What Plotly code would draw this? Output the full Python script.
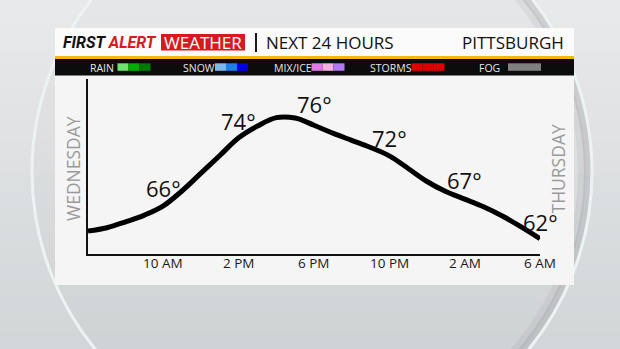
import math
import plotly.graph_objects as go

# ---------------- data ----------------
hours = list(range(0, 25))  # hours after 6 AM Wednesday
temps = [62.9, 63.3, 64.0, 64.8, 65.9, 67.7, 69.8, 71.9, 74.0, 75.4, 76.4, 76.35,
         75.5, 74.55, 73.7, 72.85, 71.85, 70.35, 68.8, 67.6, 66.7, 65.8, 64.7, 63.4, 62.0]
tick_hours = [4, 8, 12, 16, 20, 24]
tick_labels = ["10 AM", "2 PM", "6 PM", "10 PM", "2 AM", "6 AM"]
label_temps = [66, 74, 76, 72, 67, 62]
legend_names = ["RAIN", "SNOW", "MIX/ICE", "STORMS", "FOG"]
legend_colors = [["#6ee26e", "#00b000", "#007a00"],
                 ["#7ab8ea", "#1f7fe8", "#0000e6"],
                 ["#e07ae6", "#f6b0e2", "#b078f2"],
                 ["#e00000", "#e00000", "#e00000"],
                 ["#808080", "#808080", "#808080"]]

W, H = 620, 349
L, R, T, B = 88, 80, 79, 95
PW, PH = W - L - R, H - T - B
FONT = "Open Sans"


def px(x):
    return (x - L) / PW


def py(y):
    return (H - B - y) / PH


def mix(c1, c2, f):
    a = [int(c1[i:i + 2], 16) for i in (1, 3, 5)]
    b = [int(c2[i:i + 2], 16) for i in (1, 3, 5)]
    return "#" + "".join(f"{round(a[k] + (b[k] - a[k]) * f):02x}" for k in range(3))


shapes = []
annotations = []

# background vertical gradient (bands)
NB = 20
for i in range(NB):
    y0 = H * i / NB
    y1 = H * (i + 1) / NB
    shapes.append(dict(type="rect", xref="paper", yref="paper", layer="below",
                       x0=px(0), x1=px(W), y0=py(y1 + 0.5), y1=py(y0),
                       fillcolor=mix("#e8eaeb", "#d2d5d7", (i + 0.5) / NB), line=dict(width=0)))
# background circle: right-side inner shading arc + light rim
CX, CY, RAD = 312, 172, 280
for rr, col, wd in [(RAD - 4, "rgba(130,132,135,0.22)", 8), (RAD - 10, "rgba(130,132,135,0.10)", 8)]:
    pts = []
    for k in range(41):
        a = math.radians(-80 + 160 * k / 40)
        pts.append((px(CX + rr * math.cos(a)), py(CY + rr * math.sin(a))))
    path = "M " + " L ".join(f"{x:.5f},{y:.5f}" for x, y in pts)
    shapes.append(dict(type="path", xref="paper", yref="paper", layer="below", path=path,
                       line=dict(color=col, width=wd)))
shapes.append(dict(type="circle", xref="paper", yref="paper", layer="below",
                   x0=px(CX - RAD), x1=px(CX + RAD), y0=py(CY + RAD), y1=py(CY - RAD),
                   fillcolor="rgba(0,0,0,0.01)", line=dict(color="#edf3f5", width=3)))
# panel
shapes.append(dict(type="rect", xref="paper", yref="paper", layer="below",
                   x0=px(55), x1=px(574), y0=py(285), y1=py(28),
                   fillcolor="#f5f5f5", line=dict(width=0)))
shapes.append(dict(type="rect", xref="paper", yref="paper", layer="below",
                   x0=px(55), x1=px(574), y0=py(56), y1=py(28),
                   fillcolor="#fbfbfb", line=dict(width=0)))
shapes.append(dict(type="rect", xref="paper", yref="paper", layer="below",
                   x0=px(55), x1=px(574), y0=py(59), y1=py(56),
                   fillcolor="#f6b70c", line=dict(width=0)))
shapes.append(dict(type="rect", xref="paper", yref="paper", layer="below",
                   x0=px(55), x1=px(574), y0=py(75.5), y1=py(59),
                   fillcolor="#0c0c0c", line=dict(width=0)))
# red WEATHER box
shapes.append(dict(type="rect", xref="paper", yref="paper", layer="below",
                   x0=px(161), x1=px(245), y0=py(50.5), y1=py(34),
                   fillcolor="#d71920", line=dict(width=0)))
# divider
shapes.append(dict(type="line", xref="paper", yref="paper",
                   x0=px(256), x1=px(256), y0=py(52), y1=py(33),
                   line=dict(color="#1a1a1a", width=2)))

# legend entries
legend_text_x = [88, 181, 271.5, 367.5, 476.5]
legend_sw_x = [117.5, 215, 311.5, 411.5, 508]
for name, cols, tx, sx in zip(legend_names, legend_colors, legend_text_x, legend_sw_x):
    annotations.append(dict(text=name, xref="paper", yref="paper", x=px(tx), y=py(67.5),
                            xanchor="left", yanchor="middle", showarrow=False,
                            font=dict(family=FONT, size=10.5, color="#e6e6e6")))
    for i, c in enumerate(cols):
        shapes.append(dict(type="rect", xref="paper", yref="paper",
                           x0=px(sx + i * 11), x1=px(sx + (i + 1) * 11),
                           y0=py(70.8), y1=py(63.3), fillcolor=c, line=dict(width=0)))

# header texts
annotations.append(dict(text="<b><i>FIRST <span style='color:#d71920'>ALERT</span></i></b>",
                        xref="paper", yref="paper", x=px(61), y=py(42.5),
                        xanchor="left", yanchor="middle", showarrow=False,
                        font=dict(family="Roboto", size=16, color="#111111")))
annotations.append(dict(text="WEATHER", xref="paper", yref="paper", x=px(203), y=py(42.5),
                        xanchor="center", yanchor="middle", showarrow=False,
                        font=dict(family=FONT, size=17, color="#ffffff")))
annotations.append(dict(text="NEXT 24 HOURS", xref="paper", yref="paper", x=px(264), y=py(43),
                        xanchor="left", yanchor="middle", showarrow=False,
                        font=dict(family=FONT, size=17, color="#111111")))
annotations.append(dict(text="PITTSBURGH", xref="paper", yref="paper", x=px(566), y=py(43),
                        xanchor="right", yanchor="middle", showarrow=False,
                        font=dict(family=FONT, size=17, color="#111111")))

# day labels
annotations.append(dict(text="WEDNESDAY", xref="paper", yref="paper", x=px(73), y=py(169),
                        xanchor="center", yanchor="middle", showarrow=False, textangle=-90,
                        font=dict(family=FONT, size=17.5, color="#9a9a9a")))
annotations.append(dict(text="THURSDAY", xref="paper", yref="paper", x=px(557.5), y=py(169),
                        xanchor="center", yanchor="middle", showarrow=False, textangle=-90,
                        font=dict(family=FONT, size=17.5, color="#9a9a9a")))

# x tick labels (placed on the x axis scale)
for h, lab in zip(tick_hours, tick_labels):
    annotations.append(dict(text=lab, x=h, xref="x", yref="paper", y=py(263),
                            xanchor="center", yanchor="middle", showarrow=False,
                            font=dict(family=FONT, size=13.5, color="#1a1a1a")))

# temperature labels
for h, t in zip(tick_hours, label_temps):
    annotations.append(dict(text=f"{t}°", x=h, y=t, xref="x", yref="y",
                            xanchor="center", yanchor="middle", yshift=17, showarrow=False,
                            font=dict(family=FONT, size=22, color="#111111")))

fig = go.Figure()
fig.add_trace(go.Scatter(x=hours, y=temps, mode="lines",
                         line=dict(color="#000000", width=5, shape="spline", smoothing=1.0),
                         hoverinfo="skip", cliponaxis=False))

fig.update_layout(
    width=W, height=H,
    margin=dict(l=L, r=R, t=T, b=B),
    paper_bgcolor="#dfe1e3",
    plot_bgcolor="rgba(0,0,0,0)",
    showlegend=False,
    shapes=shapes,
    annotations=annotations,
    xaxis=dict(range=[0, 24], tickvals=tick_hours, showticklabels=False,
               showline=True, linecolor="#111111", linewidth=2, showgrid=False,
               zeroline=False, ticks="", fixedrange=True),
    yaxis=dict(range=[60.17, 81], showline=True, linecolor="#111111", linewidth=2,
               showgrid=False, zeroline=False, showticklabels=False, ticks="",
               fixedrange=True),
)

fig.write_html("out.html")
